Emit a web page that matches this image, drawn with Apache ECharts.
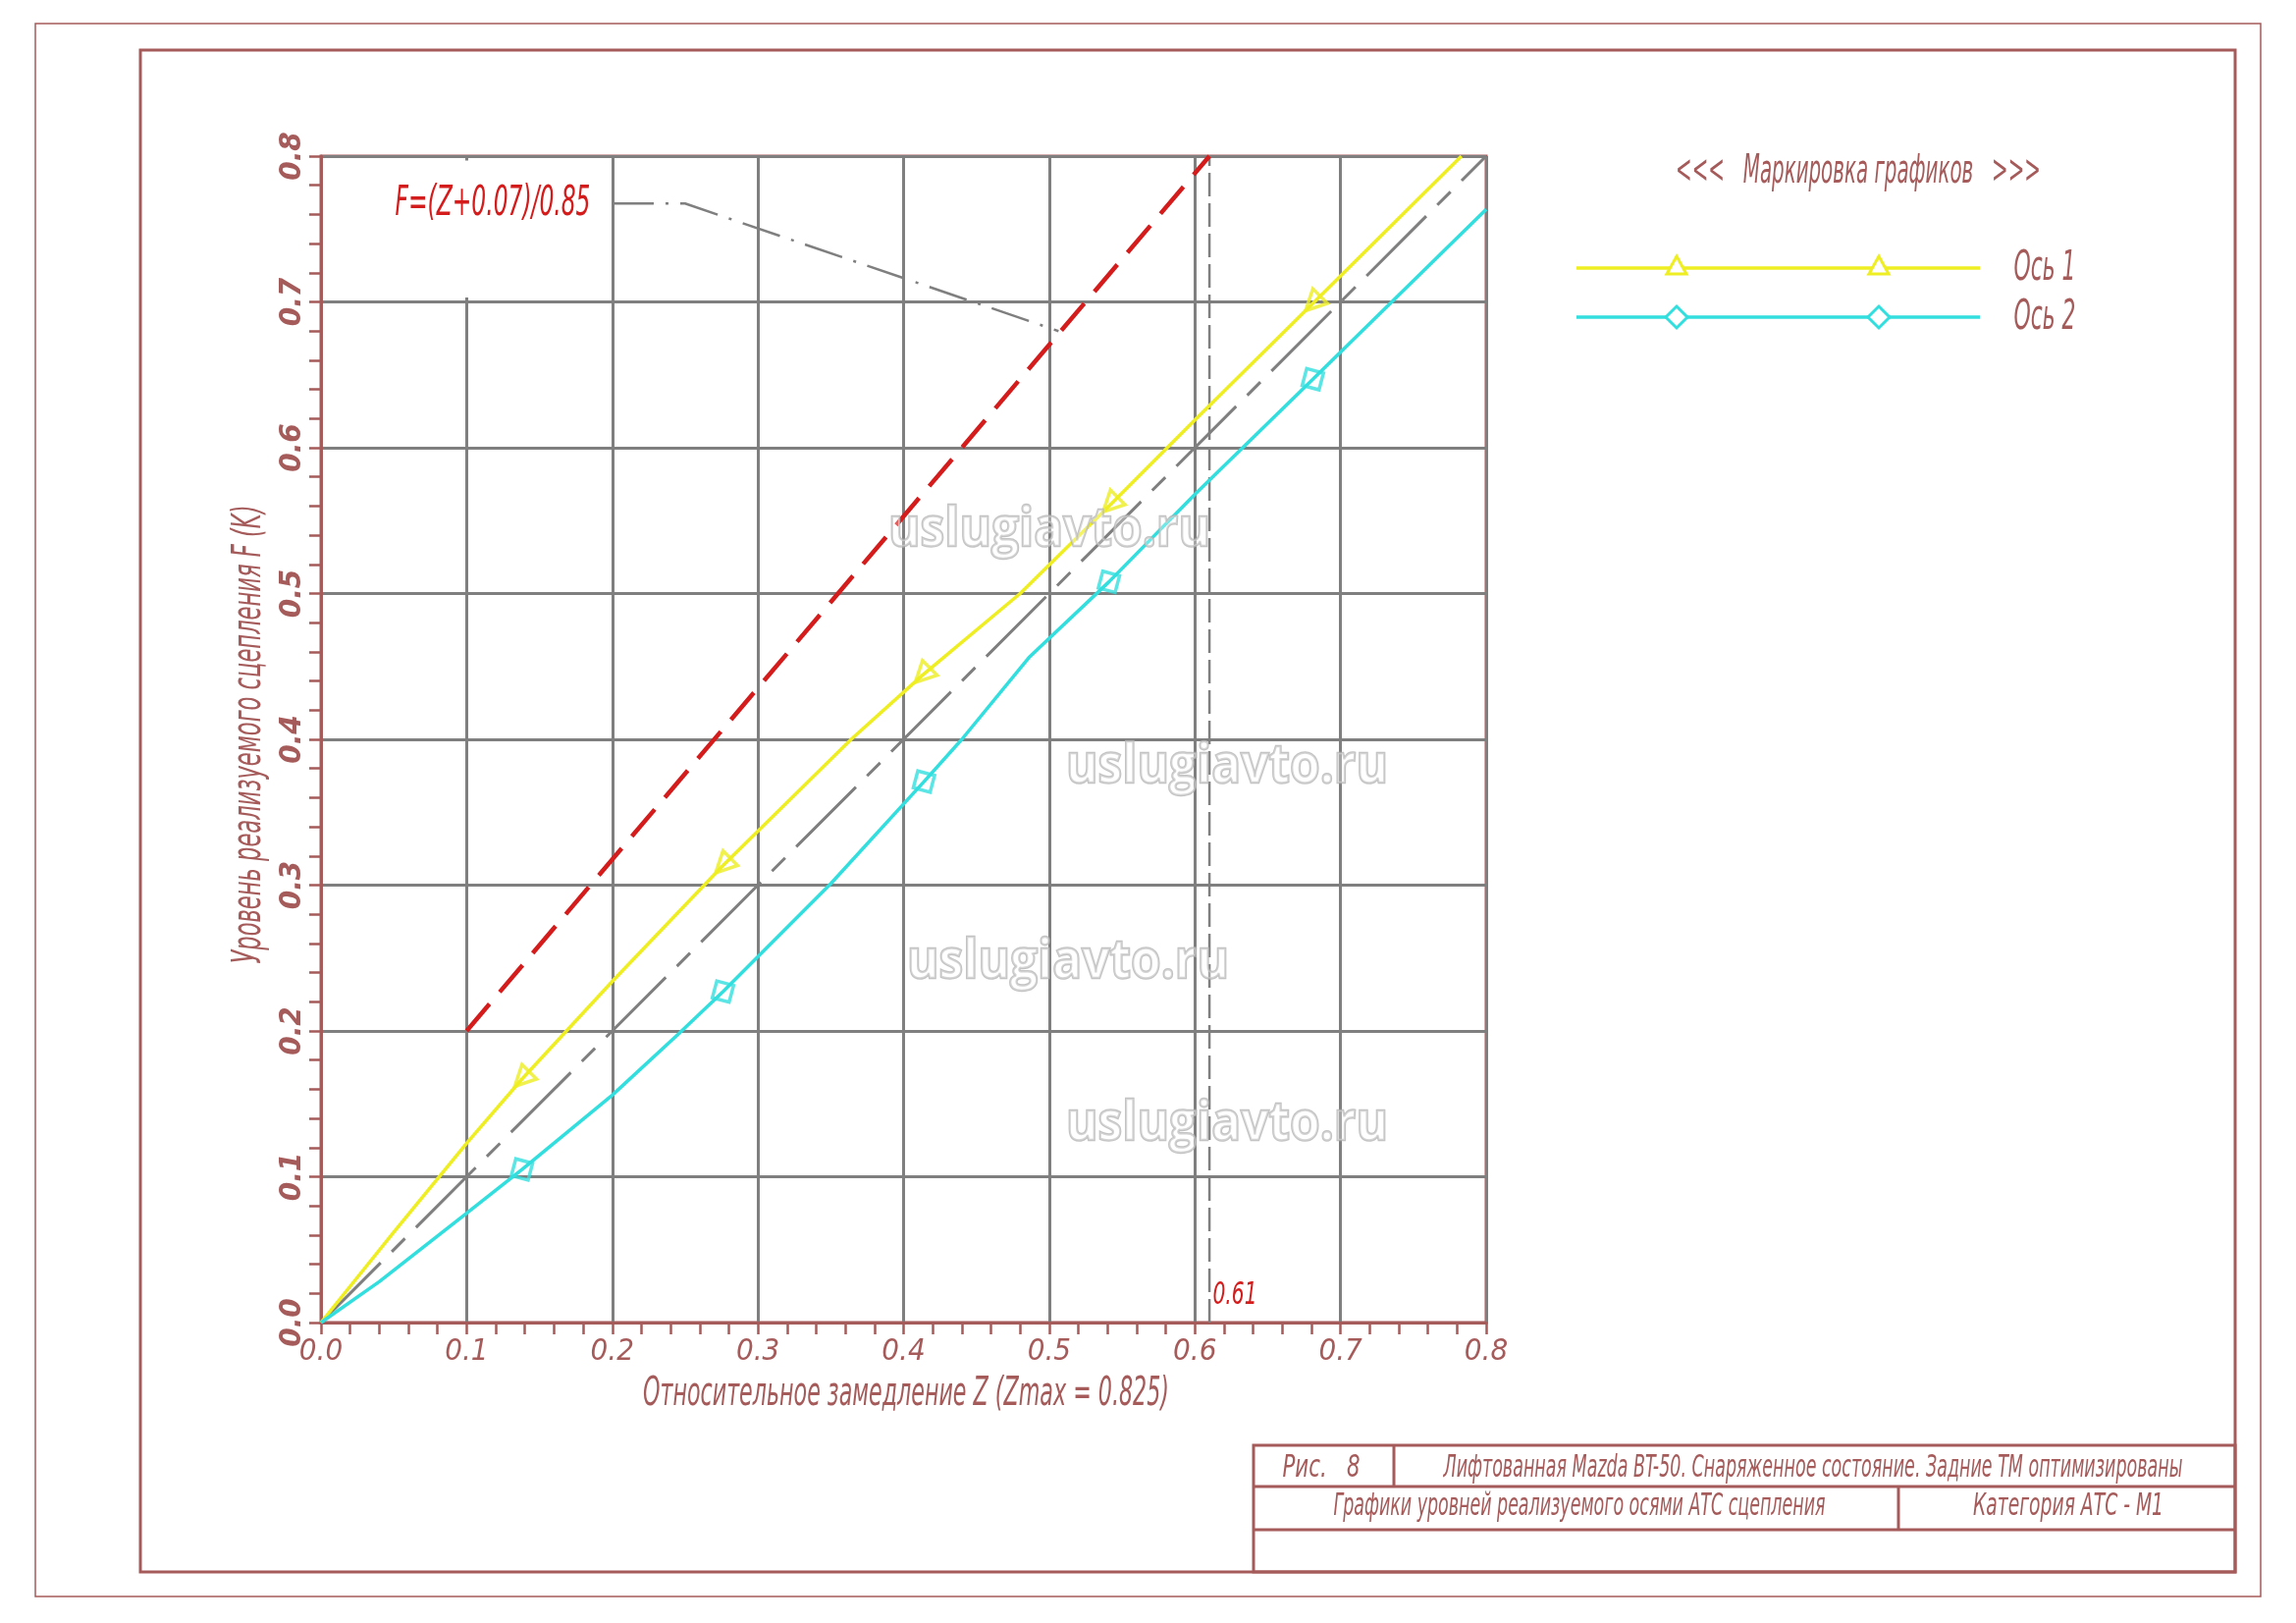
<!DOCTYPE html>
<html>
<head>
<meta charset="utf-8">
<script src="https://cdn.jsdelivr.net/npm/echarts@6/dist/echarts.min.js"></script>
<style>
html, body { margin: 0; padding: 0; background: #fff; }
#main { width: 2339px; height: 1653px; }
</style>
</head>
<body>
<div id="main"></div>
<script>
// axis ticks (Z and F run 0.0 .. 0.8)
const zTicks = [0, 0.1, 0.2, 0.3, 0.4, 0.5, 0.6, 0.7, 0.8];
const fTicks = [0, 0.1, 0.2, 0.3, 0.4, 0.5, 0.6, 0.7, 0.8];

// Ось 1 (yellow)
const axis1Z = [0, 0.05, 0.1, 0.138, 0.2, 0.276, 0.364, 0.413, 0.48, 0.542, 0.6, 0.681, 0.783];
const axis1F = [0, 0.062, 0.123, 0.167, 0.234, 0.3135, 0.4, 0.444, 0.5, 0.561, 0.619, 0.699, 0.8];
const axis1MarkZ = [0.138, 0.276, 0.413, 0.542, 0.681];
const axis1MarkF = [0.167, 0.3135, 0.444, 0.561, 0.699];

// Ось 2 (cyan)
const axis2Z = [0, 0.04, 0.1, 0.138, 0.2, 0.2455, 0.276, 0.35, 0.414, 0.44, 0.486, 0.541, 0.6, 0.681, 0.8];
const axis2F = [0, 0.028, 0.075, 0.105, 0.156, 0.198, 0.227, 0.301, 0.371, 0.4, 0.456, 0.508, 0.568, 0.647, 0.7635];
const axis2MarkZ = [0.138, 0.276, 0.414, 0.541, 0.681];
const axis2MarkF = [0.105, 0.227, 0.371, 0.508, 0.647];

// F = Z diagonal, limit line F=(Z+0.07)/0.85, Zmax line, leader of the formula
const idealZ = [0, 0.8];
const idealF = [0, 0.8];
const limitZ = [0.1, 0.61];
const limitF = [0.2, 0.8];
const zmaxZ = [0.61, 0.61];
const zmaxF = [0, 0.8];
const leaderZ = [0.2015, 0.25, 0.5064];
const leaderF = [0.7675, 0.7675, 0.68];

const BROWN = '#a65b5b';
const GRID = '#7f7f7f';
const RED = '#d41c1c';
const YELLOW = '#eeee22';
const CYAN = '#33dede';
const NARROW = '"Liberation Sans Narrow", "DejaVu Sans Condensed", "Liberation Sans", sans-serif';

function zip(xs, ys) {
    return xs.map((x, i) => [x, ys[i]]);
}

// text squeezed to a given width, like the CAD font
const measureCtx = document.createElement('canvas').getContext('2d');
function cadText(text, cx, cy, width, size, color, rot, weight, family) {
    const fam = family || NARROW;
    const style = family ? 'normal' : 'italic';
    const w8 = weight || 'normal';
    measureCtx.font = style + ' ' + w8 + ' ' + size + 'px ' + fam;
    const w = measureCtx.measureText(text).width;
    return {
        type: 'text', x: cx, y: cy, rotation: rot || 0, scaleX: width / w, z: 100,
        style: {
            text: text, fill: color, fontSize: size, fontFamily: fam, fontStyle: style, fontWeight: w8,
            align: 'center', verticalAlign: 'middle', textAlign: 'center', textVerticalAlign: 'middle'
        }
    };
}

function watermark(cx, cy) {
    const el = cadText('uslugiavto.ru', cx, cy, 328, 56, 'rgba(255,255,255,0.3)', 0, 'bold', '"Open Sans", "DejaVu Sans", sans-serif');
    el.style.stroke = 'rgba(180,180,180,0.8)';
    el.style.lineWidth = 2.5;
    el.z = 90;
    return el;
}

function frameLine(x1, y1, x2, y2, w) {
    return {type: 'line', shape: {x1: x1, y1: y1, x2: x2, y2: y2}, style: {stroke: BROWN, lineWidth: w}, z: 100};
}

function legendSymbol(kind, cx, cy, color) {
    let pts;
    if (kind === 'triangle') {
        pts = [[cx, cy - 10], [cx + 10, cy + 8], [cx - 10, cy + 8]];
    } else {
        pts = [[cx, cy - 11], [cx + 11, cy], [cx, cy + 11], [cx - 11, cy]];
    }
    return {type: 'polygon', shape: {points: pts}, style: {fill: '#fff', stroke: color, lineWidth: 3}, z: 101};
}

const graphics = [
    // drawing sheet frames
    {type: 'rect', shape: {x: 36, y: 24, width: 2267, height: 1602}, style: {fill: 'transparent', stroke: BROWN, lineWidth: 1.5}, z: 100},
    {type: 'rect', shape: {x: 143, y: 51, width: 2134, height: 1550}, style: {fill: 'transparent', stroke: BROWN, lineWidth: 3}, z: 100},
    // title block
    {type: 'rect', shape: {x: 1277, y: 1472, width: 1000, height: 129}, style: {fill: 'transparent', stroke: BROWN, lineWidth: 3}, z: 100},
    frameLine(1277, 1514, 2277, 1514, 3),
    frameLine(1277, 1558, 2277, 1558, 3),
    frameLine(1420, 1472, 1420, 1514, 3),
    frameLine(1934, 1514, 1934, 1558, 3),
    cadText('Рис.   8', 1346, 1496, 79, 32, BROWN),
    cadText('Лифтованная Mazda BT-50. Снаряженное состояние. Задние ТМ оптимизированы', 1847, 1496, 753, 32, BROWN),
    cadText('Графики уровней реализуемого осями АТС сцепления', 1609, 1535, 501, 32, BROWN),
    cadText('Категория АТС - М1', 2107, 1535, 194, 32, BROWN),
    // axis names
    cadText('Относительное замедление Z (Zmax = 0.825)', 923, 1421, 536, 40, BROWN),
    cadText('Уровень реализуемого сцепления F (K)', 255, 748, 467, 40, BROWN, Math.PI / 2),
    // annotations
    cadText('F=(Z+0.07)/0.85', 502, 208, 199, 42, RED),
    cadText('0.61', 1258, 1320, 45, 32, RED),
    // legend
    cadText('<<<   Маркировка графиков   >>>', 1893, 176, 372, 40, BROWN),
    {type: 'line', shape: {x1: 1606, y1: 273, x2: 2017, y2: 273}, style: {stroke: YELLOW, lineWidth: 3.5}, z: 100},
    {type: 'line', shape: {x1: 1606, y1: 323, x2: 2017, y2: 323}, style: {stroke: CYAN, lineWidth: 3.5}, z: 100},
    legendSymbol('triangle', 1708, 271, YELLOW),
    legendSymbol('triangle', 1914, 271, YELLOW),
    legendSymbol('diamond', 1708, 323, CYAN),
    legendSymbol('diamond', 1914, 323, CYAN),
    cadText('Ось 1', 2083, 274, 63, 42, BROWN),
    cadText('Ось 2', 2083, 324, 63, 42, BROWN),
    // watermarks
    watermark(1069, 540),
    watermark(1250, 781),
    watermark(1088, 980),
    watermark(1250, 1145)
];

function valueAxis(isY) {
    return {
        type: 'value', min: 0, max: 0.8, interval: 0.1,
        axisLine: {show: true, onZero: false, lineStyle: {color: BROWN, width: 3}},
        axisTick: {show: true, length: 12, lineStyle: {color: BROWN, width: 2.5}},
        minorTick: {show: true, splitNumber: 5, length: 12, lineStyle: {color: BROWN, width: 2.5}},
        splitLine: {show: true, lineStyle: {color: GRID, width: 3}},
        axisLabel: {
            show: true, margin: 14, color: BROWN, fontSize: 31, fontStyle: 'italic', fontFamily: NARROW,
            fontWeight: isY ? 'bold' : 'normal',
            rotate: isY ? 90 : 0, showMinLabel: true, showMaxLabel: true,
            formatter: v => (isY ? fTicks : zTicks).indexOf(Math.round(v * 10) / 10) >= 0 ? v.toFixed(1) : ''
        }
    };
}

var chartDom = document.getElementById('main');
var myChart = echarts.init(chartDom, null, {renderer: 'canvas'});

var option = {
    animation: false,
    backgroundColor: '#fff',
    grid: {
        left: 327, top: 159, width: 1187, height: 1188, containLabel: false, outerBoundsMode: 'none',
        show: true, borderColor: BROWN, borderWidth: 3, backgroundColor: 'transparent'
    },
    xAxis: valueAxis(false),
    yAxis: valueAxis(true),
    series: [
        {
            name: 'F=Z', type: 'line', data: zip(idealZ, idealF), showSymbol: false, silent: true,
            lineStyle: {color: GRID, width: 3, type: [86, 16, 19, 16]}
        },
        {
            name: 'Zmax', type: 'line', data: zip(zmaxZ, zmaxF), showSymbol: false, silent: true,
            lineStyle: {color: GRID, width: 2.5, type: [24, 7]}
        },
        {
            name: 'leader', type: 'line', data: zip(leaderZ, leaderF), showSymbol: false, silent: true,
            lineStyle: {color: GRID, width: 2.5, type: [40, 12, 3, 12]},
            // the 0.1 grid line stops under the formula label
            markArea: {
                silent: true, itemStyle: {color: '#fff', opacity: 1},
                data: [[{coord: [0.092, 0.703]}, {coord: [0.108, 0.797]}]]
            }
        },
        {
            name: 'Ось 1', type: 'line', data: zip(axis1Z, axis1F), showSymbol: false, silent: true,
            lineStyle: {color: YELLOW, width: 3.5}
        },
        {
            name: 'Ось 2', type: 'line', data: zip(axis2Z, axis2F), showSymbol: false, silent: true,
            lineStyle: {color: CYAN, width: 3.5}
        },
        {
            name: 'limit', type: 'line', data: zip(limitZ, limitF), showSymbol: false, silent: true,
            lineStyle: {color: RED, width: 4.5, type: [36, 16]}
        },
        {
            name: 'Ось 1 marks', type: 'scatter', data: zip(axis1MarkZ, axis1MarkF), silent: true,
            symbol: 'triangle', symbolSize: 21, symbolRotate: 135,
            itemStyle: {color: 'rgba(255,255,255,0)', borderColor: YELLOW, borderWidth: 3.5}
        },
        {
            name: 'Ось 2 marks', type: 'scatter', data: zip(axis2MarkZ, axis2MarkF), silent: true,
            symbol: 'diamond', symbolSize: 25, symbolRotate: 30,
            itemStyle: {color: 'rgba(255,255,255,0)', borderColor: CYAN, borderWidth: 3.5}
        }
    ],
    graphic: {elements: graphics}
};

option && myChart.setOption(option);
</script>
</body>
</html>
